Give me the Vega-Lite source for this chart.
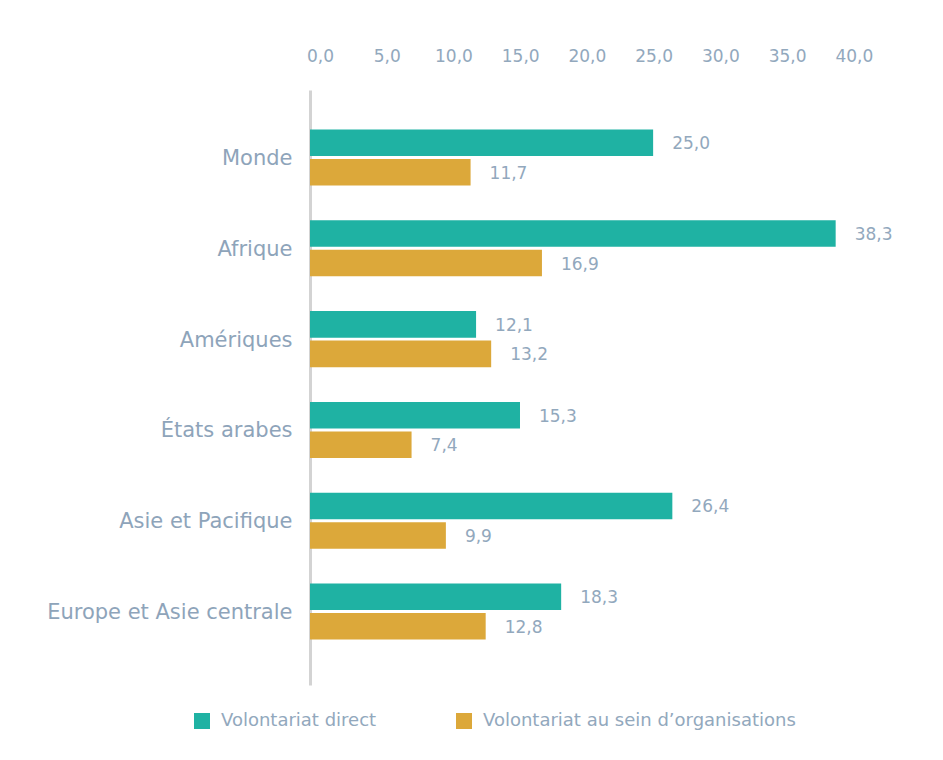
{
  "$schema": "https://vega.github.io/schema/vega-lite/v6.json",
  "width": 549,
  "height": 595,
  "autosize": "none",
  "padding": {"left": 310, "top": 90, "right": 84, "bottom": 75},
  "background": "white",
  "config": {
    "view": {"stroke": null},
    "font": "DejaVu Sans",
    "locale": {"number": {"decimal": ",", "thousands": " ", "grouping": [3], "currency": ["", " €"]}}
  },
  "data": {
    "values": [
      {"region": "Monde", "serie": "Volontariat direct", "valeur": 25.0},
      {"region": "Monde", "serie": "Volontariat au sein d’organisations", "valeur": 11.7},
      {"region": "Afrique", "serie": "Volontariat direct", "valeur": 38.3},
      {"region": "Afrique", "serie": "Volontariat au sein d’organisations", "valeur": 16.9},
      {"region": "Amériques", "serie": "Volontariat direct", "valeur": 12.1},
      {"region": "Amériques", "serie": "Volontariat au sein d’organisations", "valeur": 13.2},
      {"region": "États arabes", "serie": "Volontariat direct", "valeur": 15.3},
      {"region": "États arabes", "serie": "Volontariat au sein d’organisations", "valeur": 7.4},
      {"region": "Asie et Pacifique", "serie": "Volontariat direct", "valeur": 26.4},
      {"region": "Asie et Pacifique", "serie": "Volontariat au sein d’organisations", "valeur": 9.9},
      {"region": "Europe et Asie centrale", "serie": "Volontariat direct", "valeur": 18.3},
      {"region": "Europe et Asie centrale", "serie": "Volontariat au sein d’organisations", "valeur": 12.8}
    ]
  },
  "encoding": {
    "y": {
      "field": "region",
      "type": "nominal",
      "sort": ["Monde", "Afrique", "Amériques", "États arabes", "Asie et Pacifique", "Europe et Asie centrale"],
      "scale": {"paddingInner": 0.383, "paddingOuter": 0.468, "align": 0.465},
      "axis": {
        "title": null,
        "ticks": false,
        "tickSize": 0,
        "labelPadding": 18,
        "labelFontSize": 21,
        "labelColor": "#8ea4ba",
        "labelFontWeight": 400,
        "labelLimit": 400,
        "labelOffset": 1.5,
        "domain": true,
        "domainColor": "#d3d3d3",
        "domainWidth": 3
      }
    },
    "yOffset": {
      "field": "serie",
      "sort": ["Volontariat direct", "Volontariat au sein d’organisations"],
      "scale": {"paddingInner": 0.1}
    },
    "x": {
      "field": "valeur",
      "type": "quantitative",
      "scale": {"domain": [0, 40], "nice": false},
      "axis": {
        "orient": "top",
        "title": null,
        "values": [0, 5, 10, 15, 20, 25, 30, 35, 40],
        "format": ".1f",
        "ticks": false,
        "tickSize": 0,
        "domain": false,
        "grid": false,
        "labelPadding": 25,
        "labelOffset": {"expr": "10 - 0.38 * datum.value"},
        "labelFontSize": 17,
        "labelColor": "#92a8bd",
        "labelFlush": false
      }
    }
  },
  "layer": [
    {
      "mark": {"type": "bar"},
      "encoding": {
        "color": {
          "field": "serie",
          "type": "nominal",
          "scale": {
            "domain": ["Volontariat direct", "Volontariat au sein d’organisations"],
            "range": ["#1fb2a3", "#dca83a"]
          },
          "legend": {
            "title": null,
            "orient": "none",
            "legendX": -117,
            "legendY": 622,
            "direction": "horizontal",
            "symbolType": "square",
            "symbolSize": 256,
            "symbolStrokeWidth": 0,
            "labelFontSize": 18,
            "labelColor": "#92a8bd",
            "labelOffset": 10,
            "labelLimit": 400,
            "columnPadding": 78
          }
        }
      }
    },
    {
      "mark": {"type": "text", "align": "left", "baseline": "middle", "dx": 19, "dy": 1.5, "fontSize": 17, "color": "#92a8bd"},
      "encoding": {
        "text": {"field": "valeur", "type": "quantitative", "format": ".1f"}
      }
    }
  ]
}
